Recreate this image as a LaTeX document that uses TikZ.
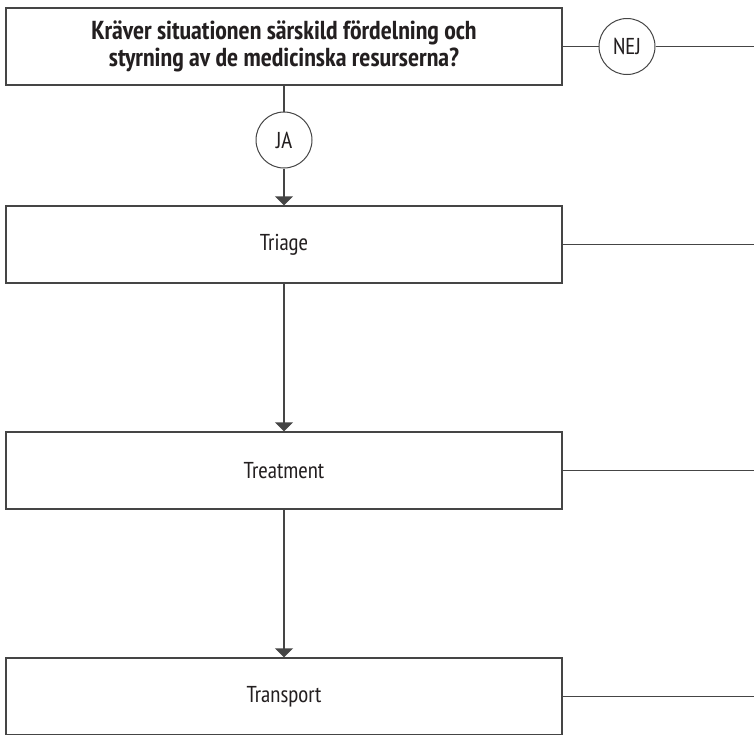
\documentclass[tikz,border=0pt]{standalone}
\usepackage{fontspec}
\setmainfont{PT Sans Narrow}
\usetikzlibrary{arrows.meta}
\definecolor{linegray}{HTML}{454545}
\definecolor{inkblack}{HTML}{231F20}

\begin{document}
\begin{tikzpicture}[x=1pt,y=-1pt,
  box/.style={draw=linegray,line width=1.3pt,minimum width=556pt,minimum height=77pt,
    inner sep=0pt,text=inkblack,font=\fontsize{23}{27}\selectfont},
  answer/.style={draw=linegray,circle,line width=1pt,minimum size=56pt,inner sep=0pt,
    text=inkblack,font=\fontsize{23}{25}\selectfont},
  link/.style={draw=linegray,line width=1.3pt},
  flow/.style={link,-{Triangle[width=18pt,length=9pt]}}]
\useasboundingbox (0,0) rectangle (754,734);

\node[box,align=center,font=\fontsize{26}{27}\selectfont\bfseries] (q) at (284,46.5)
  {Kräver situationen särskild fördelning och\\styrning av de medicinska resurserna?};
\node[answer] (nej) at (627,46.5) {NEJ};
\node[answer] (ja) at (284,140) {JA};

\node[box] (triage) at (284,244.5) {Triage};
\node[box] (treat) at (284,470.5) {Treatment};
\node[box] (transport) at (284,696.5) {Transport};

\coordinate (qend) at (754,46.5);
\coordinate (triageend) at (754,244.5);
\coordinate (treatend) at (754,470.5);
\coordinate (transportend) at (754,696.5);

\draw[link] (q) -- (nej) -- (qend);
\draw[link] (q) -- (ja);
\draw[flow] (ja) -- (triage);
\draw[flow] (triage) -- (treat);
\draw[flow] (treat) -- (transport);

\draw[link] (triage.east) -- (triageend);
\draw[link] (treat.east) -- (treatend);
\draw[link] (transport.east) -- (transportend);
\end{tikzpicture}
\end{document}
